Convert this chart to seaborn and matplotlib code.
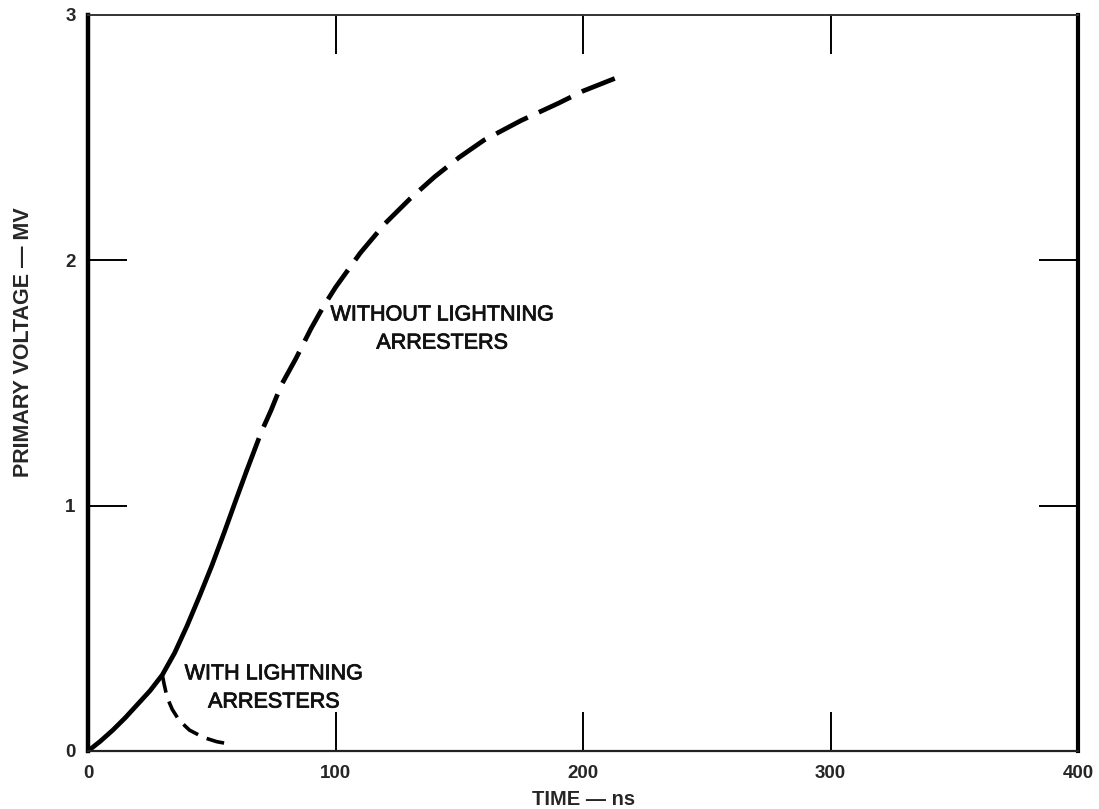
import matplotlib
matplotlib.use("Agg")
import matplotlib.pyplot as plt
import matplotlib.patheffects as pe
import seaborn as sns
import pandas as pd

# curve without arresters: solid part then dashed part (ns, MV)
solid_t = [0, 5, 10, 15, 20, 25, 30, 35, 40, 45, 50, 55, 60, 64]
solid_v = [0, 0.04, 0.085, 0.135, 0.19, 0.245, 0.31, 0.40, 0.51, 0.63, 0.755, 0.89, 1.03, 1.14]
dash_t = [64, 67, 70, 74, 78, 84, 90, 95, 100, 110, 120, 130, 140, 150, 160, 175, 190, 200, 215]
dash_v = [1.14, 1.22, 1.30, 1.39, 1.49, 1.60, 1.72, 1.81, 1.89, 2.03, 2.15, 2.25, 2.34, 2.42,
          2.49, 2.57, 2.64, 2.69, 2.75]

# curve with arresters (branches off at ~30 ns)
arr_t = [30, 30.8, 31.9, 34, 36.8, 41, 46.7, 52, 57.3]
arr_v = [0.31, 0.27, 0.22, 0.17, 0.125, 0.085, 0.055, 0.038, 0.028]

x_ticks = [0, 100, 200, 300, 400]
y_ticks = [0, 1, 2, 3]

sns.set_style("white")
plt.rcParams['font.family'] = ['Liberation Sans', 'DejaVu Sans']

fig = plt.figure(figsize=(10.99, 8.09), dpi=100)
ax = fig.add_axes([0.0801, 0.0717, 0.9009, 0.9098])

df_solid = pd.DataFrame({'t': solid_t, 'v': solid_v})
df_dash = pd.DataFrame({'t': dash_t, 'v': dash_v})
df_arr = pd.DataFrame({'t': arr_t, 'v': arr_v})

sns.lineplot(data=df_solid, x='t', y='v', ax=ax, color='black', lw=3.4, sort=False)
sns.lineplot(data=df_dash, x='t', y='v', ax=ax, color='black', lw=3.4, sort=False,
             linestyle=(0, (7.5, 2.6)))
sns.lineplot(data=df_arr, x='t', y='v', ax=ax, color='black', lw=2.6, sort=False,
             linestyle=(0, (5, 2.6)))

# slightly heavier text, like the printed original
bold_ish = [pe.withStroke(linewidth=0.6, foreground='#111111')]
ax.text(75, 0.257, "WITH LIGHTNING\nARRESTERS", ha='center', va='center',
        fontsize=15.5, linespacing=1.45, color='#111111', path_effects=bold_ish)
ax.text(143, 1.72, "WITHOUT LIGHTNING\nARRESTERS", ha='center', va='center',
        fontsize=15.5, linespacing=1.45, color='#111111', path_effects=bold_ish)

ax.set_xlim(0, 400)
ax.set_ylim(0, 3)
ax.set_xticks(x_ticks)
ax.set_yticks(y_ticks)
ax.set_xticklabels([str(t) for t in x_ticks], fontsize=13.5, fontweight='bold')
ax.set_yticklabels([str(t) for t in y_ticks], fontsize=13.5, fontweight='bold')
ax.tick_params(axis='both', direction='in', top=True, right=True, bottom=True, left=True,
               length=28, width=1.4, color='black')
ax.tick_params(axis='x', pad=10)
ax.tick_params(axis='y', pad=9)

# no tick marks at the frame corners
for tk in [ax.xaxis.get_major_ticks()[0], ax.xaxis.get_major_ticks()[-1],
           ax.yaxis.get_major_ticks()[0], ax.yaxis.get_major_ticks()[-1]]:
    tk.tick1line.set_visible(False)
    tk.tick2line.set_visible(False)

ax.set_xlabel("TIME — ns", fontsize=14.5, fontweight='bold', labelpad=6)
ax.set_ylabel("PRIMARY VOLTAGE — MV", fontsize=15.5, fontweight='bold')
ax.yaxis.set_label_coords(-0.0545, 0.556)

for side, lw, col in [('left', 3.2, 'black'), ('right', 3.0, 'black'),
                      ('top', 1.4, '#333333'), ('bottom', 1.6, '#222222')]:
    ax.spines[side].set_linewidth(lw)
    ax.spines[side].set_color(col)
    ax.spines[side].set_visible(True)

fig.savefig("out.png", dpi=100)
